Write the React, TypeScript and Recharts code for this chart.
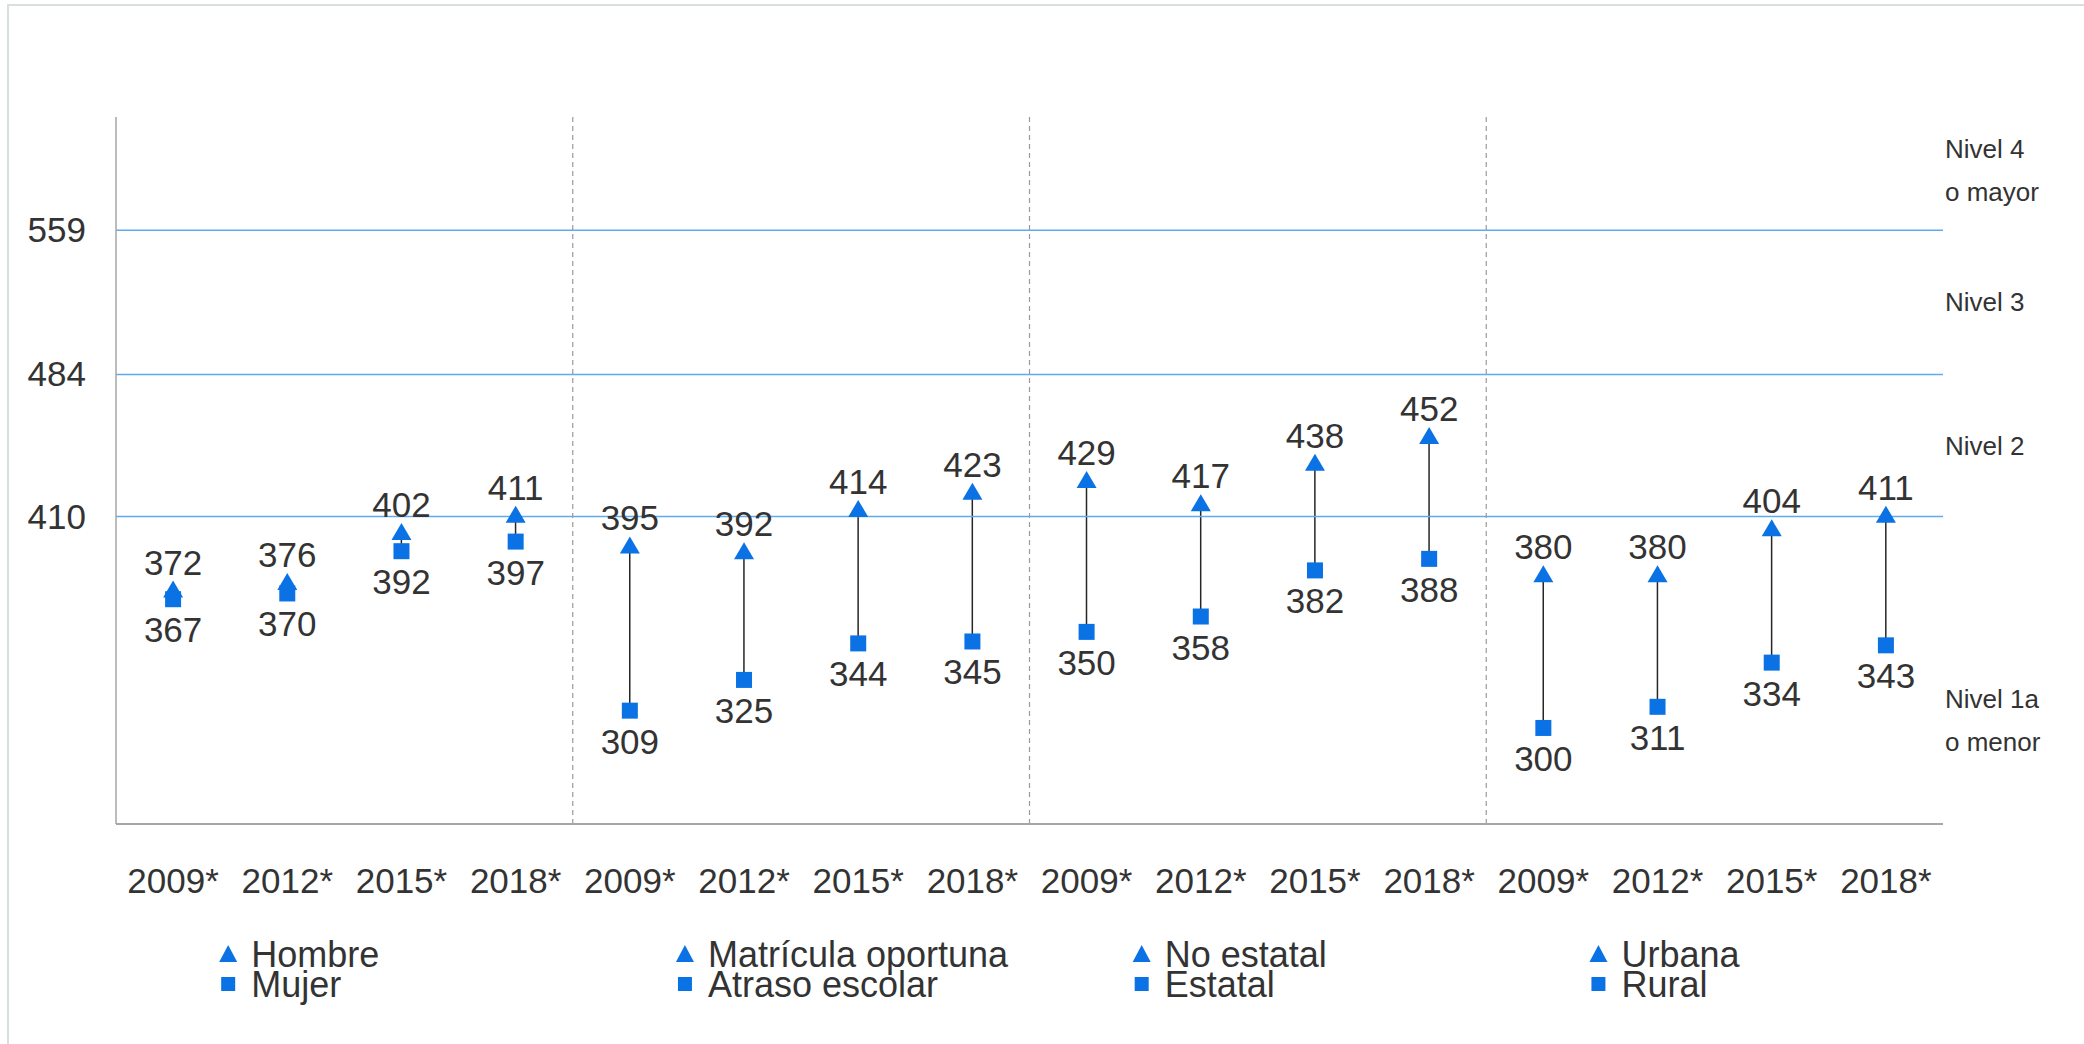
import React from 'react';
import {
  ComposedChart,
  Bar,
  Line,
  XAxis,
  YAxis,
  ReferenceLine,
  LabelList,
} from 'recharts';

// categories
const years = ['2009*', '2012*', '2015*', '2018*'];
const groups = ['sexo', 'matricula', 'gestion', 'zona'];

// series names (legend)
const upperNames = ['Hombre', 'Matrícula oportuna', 'No estatal', 'Urbana'];
const lowerNames = ['Mujer', 'Atraso escolar', 'Estatal', 'Rural'];

// values, 4 groups x 4 years
const upperValues = [372, 376, 402, 411, 395, 392, 414, 423, 429, 417, 438, 452, 380, 380, 404, 411];
const lowerValues = [367, 370, 392, 397, 309, 325, 344, 345, 350, 358, 382, 388, 300, 311, 334, 343];

// level cut points and the level names on the right
const levelCuts = [410, 484, 559];
const levelNames = [['Nivel 4', 'o mayor'], ['Nivel 3'], ['Nivel 2'], ['Nivel 1a', 'o menor']];
const levelLabelAt = [590, 521.5, 447, 304];

const BLUE = '#0A72E4';
const TEXT = '#333333';
const FONT = '"Liberation Sans", Arial, sans-serif';

const W = 2084;
const H = 1044;
const LEFT = 116;
const RIGHT = 141;
const TOP = 117;
const BOTTOM = 220;
const band = (W - LEFT - RIGHT) / upperValues.length;

const rows = upperValues.map((hi, i) => ({
  key: `${years[i % 4]}|${groups[Math.floor(i / 4)]}`,
  hi,
  lo: lowerValues[i],
  range: [lowerValues[i], hi],
}));

const Connector = (props: any) => {
  const { x, y, width, height } = props;
  if (x == null || y == null) return null;
  const cx = x + width / 2;
  return <line x1={cx} x2={cx} y1={y} y2={y + height} stroke="#262626" strokeWidth={1.5} />;
};

const triangleDot = (props: any) => {
  const { cx, cy, index } = props;
  return (
    <polygon
      key={`tri-${index}`}
      points={`${cx},${cy - 9} ${cx - 10},${cy + 8} ${cx + 10},${cy + 8}`}
      fill={BLUE}
    />
  );
};

const squareDot = (props: any) => {
  const { cx, cy, index } = props;
  return <rect key={`sq-${index}`} x={cx - 8} y={cy - 8} width={16} height={16} fill={BLUE} />;
};

const TopLabel = (props: any) => (
  <text x={props.x} y={props.y - 15} textAnchor="middle" fontSize={35} fontFamily={FONT} fill={TEXT}>
    {props.value}
  </text>
);

const BottomLabel = (props: any) => (
  <text x={props.x} y={props.y + 43} textAnchor="middle" fontSize={35} fontFamily={FONT} fill={TEXT}>
    {props.value}
  </text>
);

const XTick = (props: any) => {
  const { x, y, payload } = props;
  return (
    <text x={x} y={y + 69} textAnchor="middle" fontSize={35} fontFamily={FONT} fill={TEXT}>
      {String(payload.value).split('|')[0]}
    </text>
  );
};

const YTick = (props: any) => {
  const { y, payload } = props;
  return (
    <text x={LEFT - 30} y={y} dy={12} textAnchor="end" fontSize={35} fontFamily={FONT} fill={TEXT}>
      {payload.value}
    </text>
  );
};

const LevelLabel = (props: any) => {
  const { viewBox, lines } = props;
  if (!viewBox) return null;
  const x = viewBox.x + viewBox.width + 2;
  const start = viewBox.y - ((lines.length - 1) * 43) / 2;
  return (
    <g>
      {lines.map((t: string, i: number) => (
        <text key={t} x={x} y={start + i * 43} dy={9} fontSize={26} fontFamily={FONT} fill={TEXT}>
          {t}
        </text>
      ))}
    </g>
  );
};

const LegendOverlay = () => (
  <svg width={W} height={H} style={{ position: 'absolute', left: 0, top: 0, pointerEvents: 'none' }}>
    {upperNames.map((name, i) => {
      const mx = LEFT + band * (4 * i + 1) - 2;
      return (
        <g key={name}>
          <polygon points={`${mx},${945} ${mx - 9},${962} ${mx + 9},${962}`} fill={BLUE} />
          <text x={mx + 23} y={967} fontSize={36} fontFamily={FONT} fill={TEXT}>
            {name}
          </text>
          <rect x={mx - 7} y={977} width={14} height={14} fill={BLUE} />
          <text x={mx + 23} y={997} fontSize={36} fontFamily={FONT} fill={TEXT}>
            {lowerNames[i]}
          </text>
        </g>
      );
    })}
  </svg>
);

export default function App() {
  return (
    <div style={{ position: 'absolute', left: 0, top: 0, width: W, height: H, background: '#fff' }}>
      <div
        style={{
          position: 'absolute',
          left: 7,
          top: 4,
          width: W,
          height: H,
          borderLeft: '2px solid #D9DFDF',
          borderTop: '2px solid #D9DFDF',
        }}
      />
      <div style={{ position: 'absolute', left: 0, top: 0 }}>
        <ComposedChart
          width={W}
          height={H}
          data={rows}
          margin={{ top: TOP, right: RIGHT, bottom: BOTTOM - 100, left: 0 }}
        >
          <XAxis
            dataKey="key"
            interval={0}
            height={100}
            tickLine={false}
            tickSize={0}
            tickMargin={0}
            axisLine={{ stroke: '#A6A6A6', strokeWidth: 2 }}
            tick={<XTick />}
          />
          <YAxis
            domain={[250, 618]}
            ticks={levelCuts}
            width={LEFT}
            tickLine={false}
            tickSize={0}
            tickMargin={0}
            axisLine={{ stroke: '#A6A6A6', strokeWidth: 1.5 }}
            tick={<YTick />}
          />
          {levelCuts.map((v) => (
            <ReferenceLine key={v} y={v} stroke="#5EACEE" strokeWidth={1.5} />
          ))}
          {[4, 8, 12].map((i) => (
            <ReferenceLine
              key={i}
              x={rows[i].key}
              position="start"
              stroke="#9A9A9A"
              strokeWidth={1.2}
              strokeDasharray="5 4"
            />
          ))}
          {levelNames.map((lines, i) => (
            <ReferenceLine
              key={lines[0]}
              y={levelLabelAt[i]}
              stroke="none"
              label={<LevelLabel lines={lines} />}
            />
          ))}
          <Bar dataKey="range" barSize={4} shape={<Connector />} isAnimationActive={false} />
          <Line
            dataKey="lo"
            stroke="none"
            dot={squareDot}
            activeDot={false}
            isAnimationActive={false}
          >
            <LabelList dataKey="lo" content={<BottomLabel />} />
          </Line>
          <Line
            dataKey="hi"
            stroke="none"
            dot={triangleDot}
            activeDot={false}
            isAnimationActive={false}
          >
            <LabelList dataKey="hi" content={<TopLabel />} />
          </Line>
        </ComposedChart>
      </div>
      <LegendOverlay />
    </div>
  );
}
